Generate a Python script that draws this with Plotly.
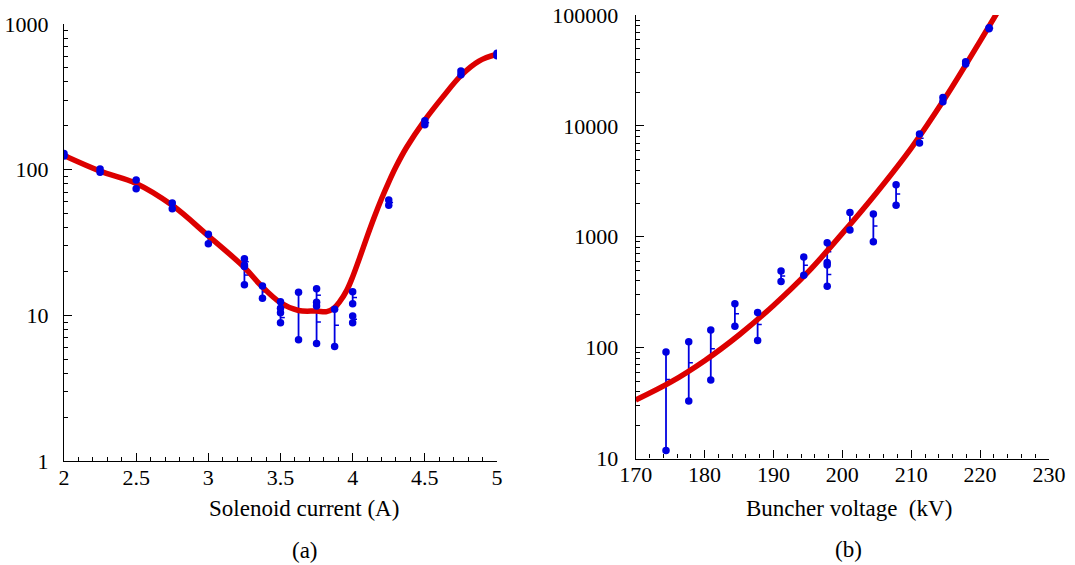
import plotly.graph_objects as go

# ---- Panel (a): signal vs solenoid current ----
sol_current = [2.0, 2.25, 2.5, 2.75, 3.0, 3.25, 3.25, 3.375, 3.5, 3.5,
               3.625, 3.75, 3.75, 3.875, 4.0, 4.0, 4.25, 4.5, 4.75, 5.0]
sol_high = [129, 101, 85, 59, 36, 24.5, 21.6, 15.9, 12.4, 10.4,
            14.4, 15.2, 11.6, 11.0, 14.5, 9.9, 62, 217, 476, 630]
sol_low = [124, 96, 74, 54, 31, 22.2, 16.2, 13.1, 11.2, 8.9,
           6.8, 12.3, 6.4, 6.1, 12.0, 8.9, 57, 203, 449, 606]

sol_fit_x = [2.0, 2.25, 2.5, 2.75, 3.0, 3.25, 3.36, 3.5, 3.625, 3.75, 3.82,
             3.87, 3.91, 3.96, 4.0, 4.05, 4.1, 4.15, 4.2, 4.25, 4.3, 4.375,
             4.5, 4.625, 4.75, 4.875, 5.0]
sol_fit_y = [125, 97.7, 80.4, 56.9, 35.1, 21.3, 16.2, 12.2, 10.8, 10.7, 10.6,
             11.2, 12.4, 14.9, 18.4, 25.1, 34.7, 47.3, 63.1, 82.2, 104.7, 143,
             219, 316, 442, 556, 620]

# ---- Panel (b): signal vs buncher voltage ----
bun_voltage = [174.4, 177.7, 180.9, 184.4, 187.7, 191.1, 194.4, 197.8, 197.8,
               201.1, 204.5, 207.8, 211.2, 214.6, 217.9, 221.3]
bun_high = [91.4, 113, 144, 249, 207, 492, 655, 881, 557,
            1651, 1600, 2937, 8440, 18030, 37800, 76700]
bun_low = [11.8, 33, 51, 156, 116, 394, 450, 585, 358,
           1153, 900, 1928, 7000, 16500, 36100, 75100]

bun_fit_x = [170, 175, 180, 185, 190, 195, 200, 205, 210, 215, 220, 222.4]
bun_fit_y = [33.7, 48.5, 76.2, 130, 240, 479, 1072, 2512, 6310, 18200, 58200, 103000]

W, H = 1075, 565
BLUE = "rgb(0,0,225)"
RED = "rgb(220,0,0)"
FONT = '"Liberation Serif", "Times New Roman", Times, serif'
TICK_SIZE = 22
TITLE_SIZE = 23


def px_x(p):
    return p / W


def px_y(p):
    return 1 - p / H


def panel_traces(x, hi, lo, fit_x, fit_y, tick_w, xa, ya):
    mean = [(a + b) / 2 for a, b in zip(hi, lo)]
    spans = go.Scatter(
        x=x, y=mean, mode="markers", xaxis=xa, yaxis=ya,
        marker=dict(size=1, color="rgba(0,0,0,0)"),
        error_y=dict(type="data", symmetric=False,
                     array=[h - m for h, m in zip(hi, mean)],
                     arrayminus=[m - l for m, l in zip(mean, lo)],
                     width=0, thickness=1.8, color=BLUE),
        error_x=dict(type="data", symmetric=False,
                     array=[tick_w] * len(x), arrayminus=[0] * len(x),
                     width=0, thickness=1.5, color=BLUE),
        hoverinfo="skip", showlegend=False)
    fit = go.Scatter(
        x=fit_x, y=fit_y, mode="lines", xaxis=xa, yaxis=ya,
        line=dict(color=RED, width=5.5, shape="spline", smoothing=1.0),
        showlegend=False)
    dots = go.Scatter(
        x=x + x, y=hi + lo, mode="markers", xaxis=xa, yaxis=ya,
        marker=dict(size=7.5, color=BLUE, line=dict(width=0)),
        showlegend=False)
    return [spans, fit, dots]


fig = go.Figure()
for t in panel_traces(sol_current, sol_high, sol_low, sol_fit_x, sol_fit_y, 0.03, "x", "y"):
    fig.add_trace(t)
for t in panel_traces(bun_voltage, bun_high, bun_low, bun_fit_x, bun_fit_y, 0.6, "x2", "y2"):
    fig.add_trace(t)

axis_common = dict(
    showline=True, linecolor="black", linewidth=1.3,
    ticks="inside", ticklen=8, tickwidth=1.2, tickcolor="black",
    showgrid=False, zeroline=False, mirror=False, automargin=False,
    tickfont=dict(family=FONT, size=TICK_SIZE, color="black"),
)


def log_minor(lo_exp, hi_exp):
    return [k * 10 ** e for e in range(lo_exp, hi_exp) for k in range(2, 10)]


minor_style = dict(ticks="inside", ticklen=4, tickwidth=1, tickcolor="black", tickmode="array")

fig.update_layout(
    width=W, height=H,
    margin=dict(l=0, r=0, t=0, b=0, autoexpand=False),
    paper_bgcolor="white", plot_bgcolor="white",
    xaxis=dict(
        axis_common, domain=[px_x(64), px_x(497)], range=[2, 5], anchor="y",
        tickmode="array", tickvals=[2, 2.5, 3, 3.5, 4, 4.5, 5],
        ticktext=["2", "2.5", "3", "3.5", "4", "4.5", "5"],
        ticklabelstandoff=-4,
        minor=dict(minor_style, tickvals=[round(2 + 0.1 * i, 1) for i in range(31)]),
    ),
    yaxis=dict(
        axis_common, type="log", domain=[px_y(461), px_y(24)], range=[0, 3], anchor="x",
        tickmode="array", tickvals=[1, 10, 100, 1000],
        ticktext=["1", "10", "100", "1000"],
        ticklabelstandoff=10,
        minor=dict(minor_style, tickvals=log_minor(0, 3)),
    ),
    xaxis2=dict(
        axis_common, domain=[px_x(635.7), px_x(1049)], range=[170, 230], anchor="y2",
        tickmode="array", tickvals=[170, 180, 190, 200, 210, 220, 230],
        ticktext=["170", "180", "190", "200", "210", "220", "230"],
        ticklabelstandoff=-4,
        minor=dict(minor_style, tickvals=list(range(170, 231, 2))),
    ),
    yaxis2=dict(
        axis_common, type="log", domain=[px_y(458.5), px_y(15)], range=[1, 5], anchor="x2",
        tickmode="array", tickvals=[10, 100, 1000, 10000, 100000],
        ticktext=["10", "100", "1000", "10000", "100000"],
        ticklabelstandoff=12,
        minor=dict(minor_style, tickvals=log_minor(1, 5)),
    ),
)

label_font = dict(family=FONT, size=TITLE_SIZE, color="black")
for text, cx, cy in [
    ("Solenoid current (A)", 304, 508),
    ("(a)", 305, 550),
    ("Buncher voltage\u00a0\u00a0(kV)", 849, 508),
    ("(b)", 848, 549),
]:
    fig.add_annotation(text=text, x=px_x(cx), y=px_y(cy), xref="paper", yref="paper",
                       xanchor="center", yanchor="middle", showarrow=False, font=label_font)

fig.write_html("out.html")
